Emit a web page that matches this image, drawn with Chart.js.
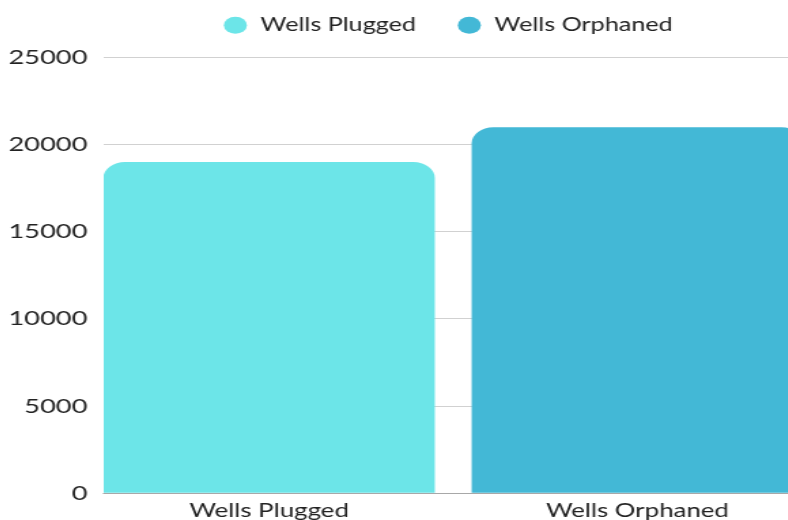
<!DOCTYPE html>
<html>
<head>
<meta charset="utf-8">
<title>Wells</title>
<script src="https://cdn.jsdelivr.net/npm/chart.js@4/dist/chart.umd.min.js"></script>
<style>
body {
	margin: 0;
	background: #fff;
}

.wrap {
	position: relative;
	width: 788px;
	height: 520px;
	overflow: hidden;
}

/* the source picture is stretched sideways, so the canvas is too */
#wellsChart {
	position: absolute;
	top: -14px;
	left: -16px;
	transform: scaleX(1.36);
	transform-origin: 0 0;
}
</style>
</head>
<body>

	<div class="wrap">
		<canvas id="wellsChart" width="676" height="542"></canvas>
	</div>

	<script>
		var categories = ["Wells Plugged", "Wells Orphaned"];
		var wellsPlugged = [19000];
		var wellsOrphaned = [21000];
		var yMax = 25000;
		var yStep = 5000;

		// legend needs a bit more room underneath
		var legendGap = {
			id : 'legendGap',
			beforeInit : function(chart) {
				var fit = chart.legend.fit;
				chart.legend.fit = function() {
					fit.bind(chart.legend)();
					this.height += 13;
				};
			}
		};

		Chart.defaults.font.family = "Lato";
		Chart.defaults.font.size = 20;
		Chart.defaults.color = "#222";

		var ctx = document.getElementById("wellsChart");
		var wellsChart = new Chart(ctx, {
			type : 'bar',
			data : {
				datasets : [ {
					label : categories[0],
					data : wellsPlugged.map(function(v) {
						return { x : 0, y : v };
					}),
					backgroundColor : "#6ce5e8"
				}, {
					label : categories[1],
					data : wellsOrphaned.map(function(v) {
						return { x : 1, y : v };
					}),
					backgroundColor : "#43b8d6"
				} ]
			},
			options : {
				responsive : false,
				animation : false,
				layout : {
					padding : { left : 6, right : 0, top : 0, bottom : 0 }
				},
				datasets : {
					bar : {
						grouped : false,
						categoryPercentage : 1,
						barPercentage : 0.9,
						borderRadius : 16,
						borderSkipped : 'start'
					}
				},
				plugins : {
					legend : {
						position : 'top',
						labels : {
							usePointStyle : true,
							pointStyle : 'circle',
							boxHeight : 12,
							padding : 30,
							font : { size : 18.5, lineHeight : 1 }
						}
					},
					tooltip : { enabled : false }
				},
				scales : {
					x : {
						type : 'linear',
						offset : false,
						min : -0.449,
						max : 1.722,
						grid : { display : false, drawTicks : false },
						border : { color : "rgba(0,0,0,0.2)" },
						afterBuildTicks : function(scale) {
							scale.ticks = scale.ticks.filter(function(t) {
								return Number.isInteger(t.value);
							});
						},
						ticks : {
							stepSize : 1,
							padding : 6,
							font : { size : 19 },
							callback : function(v) {
								return categories[v] || "";
							}
						}
					},
					y : {
						min : 0,
						max : yMax,
						grid : { drawTicks : false, color : "rgba(0,0,0,0.18)" },
						border : { display : false },
						ticks : {
							stepSize : yStep,
							padding : 12,
							callback : function(v) {
								return String(v);
							}
						}
					}
				}
			},
			plugins : [ legendGap ]
		});
	</script>

</body>
</html>
